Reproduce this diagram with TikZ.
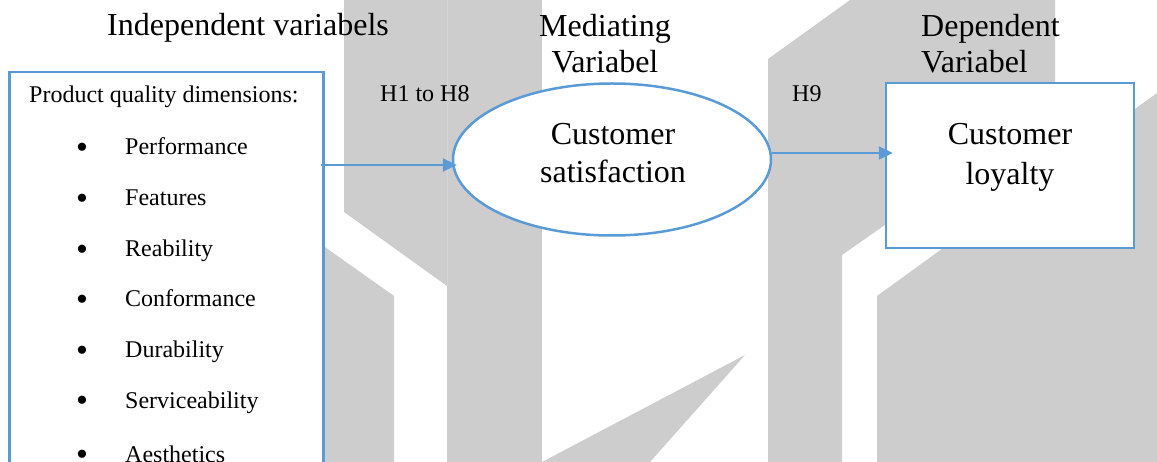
\documentclass[tikz,border=0pt]{standalone}
\usepackage{fontspec}
\setmainfont{Liberation Serif}
\usetikzlibrary{shapes.geometric,arrows.meta}
\definecolor{edgeblue}{RGB}{91,155,213}
\definecolor{blockgrey}{RGB}{205,205,205}
\definecolor{seamgrey}{RGB}{214,214,214}

\begin{document}
\begin{tikzpicture}[x=1pt,y=-1pt,
  title/.style={font=\fontsize{32}{36}\selectfont, inner sep=0pt},
  small/.style={font=\fontsize{24}{28}\selectfont, inner sep=0pt},
  bulletmark/.style={font=\fontsize{34}{36}\selectfont, inner sep=0pt},
  frame/.style={draw=edgeblue, line width=2.5pt, fill=white, inner sep=0pt},
  link/.style={draw=edgeblue, line width=2.3pt, -{Triangle[length=14pt,width=13pt]}},
]
\useasboundingbox (0,0) rectangle (1157,462);
\clip (0,0) rectangle (1157,462);

% grey background blocks
\fill[blockgrey] (344,0) -- (447,0) -- (447,286) -- (344,212) -- cycle;
\fill[blockgrey] (447,0) -- (542,0) -- (542,462) -- (447,462) -- cycle;
\draw[seamgrey, line width=0.6pt] (447,0) -- (447,286);
\fill[blockgrey] (542,462) -- (745,355) -- (650,462) -- cycle;
\fill[blockgrey] (300,229.4) -- (394,296) -- (394,462) -- (300,462) -- cycle;
\fill[blockgrey] (768,462) -- (768,59) -- (850,0) -- (1055,0) -- (1055,106) -- (842,255) -- (842,462) -- cycle;
\fill[blockgrey] (877,462) -- (877,296) -- (1157,93) -- (1157,462) -- cycle;

% column headings
\node[title, anchor=base west] (indep) at (107,36) {Independent variabels};
\node[title, align=center, anchor=north] (medi) at (605,14.1) {Mediating\\Variabel};
\node[title, align=left, anchor=north west] (depd) at (921,14.1) {Dependent\\Variabel};

% independent variables box
\node[frame, anchor=north west, minimum width=314pt, minimum height=420pt] (prod) at (8,71) {};
\node[small, anchor=base west] (hdr) at (29,103) {Product quality dimensions:};
\foreach \t/\yy [count=\i] in {Performance/155,Features/206,Reability/257,Conformance/307,Durability/358,Serviceability/408,Aesthetics/462} {
  \node[bulletmark, anchor=base west] (dot\i) at (76,\yy+3.5) {•};
  \node[small, anchor=base west] (item\i) at (125,\yy) {\t};
}

% mediating variable
\node[frame, ellipse, minimum width=318pt, minimum height=152pt] (sat) at (612,159.5) {};
\node[font=\fontsize{32}{38}\selectfont, inner sep=0pt, align=center] (satlabel) at (613,153) {Customer\\satisfaction};

% dependent variable
\node[frame, minimum width=248pt, minimum height=165pt] (loy) at (1010,165.5) {};
\node[font=\fontsize{32}{40}\selectfont, inner sep=0pt, align=center] (loylabel) at (1010,157.5) {Customer\\loyalty};

% hypothesis labels
\node[small, anchor=base west] (h18) at (380,102) {H1 to H8};
\node[small, anchor=base west] (h9) at (792,102) {H9};

% paths
\path (prod.east |- sat.west) coordinate (p1);
\draw[link] ([xshift=-4pt,yshift=-5.5pt]p1) -- ([xshift=5pt,yshift=-5.5pt]sat.west);
\path ([yshift=6.5pt]sat.east) coordinate (p2);
\path (p2 -| loy.west) coordinate (p3);
\draw[link] (p2) -- ([xshift=8pt]p3);
\end{tikzpicture}
\end{document}
